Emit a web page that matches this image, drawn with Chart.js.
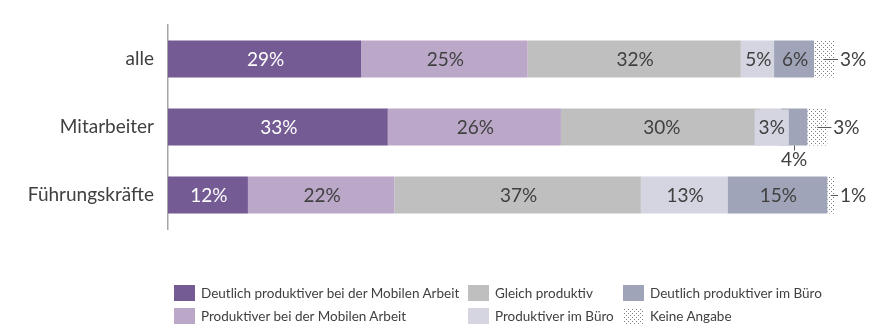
<!DOCTYPE html>
<html lang="de">
<head>
<meta charset="utf-8">
<script src="https://cdn.jsdelivr.net/npm/chart.js@4.4.1/dist/chart.umd.min.js"></script>
<style>
  html, body { margin: 0; padding: 0; background: #fff; }
  #wrap { position: relative; width: 895px; height: 330px; }
  #legend { position: absolute; left: 0; top: 0; width: 895px; height: 330px; pointer-events: none;
    font-family: Lato, "Open Sans", sans-serif; font-size: 13.5px; color: #404040; }
  .item { position: absolute; display: flex; align-items: center; white-space: nowrap; }
  .swatch { width: 21px; height: 16px; margin-right: 6px; }
</style>
</head>
<body>
<div id="wrap">
  <canvas id="chart" width="895" height="330"></canvas>
  <div id="legend"></div>
</div>
<script>
const categories = ["alle", "Mitarbeiter", "Führungskräfte"]

const seriesNames = [
  "Deutlich produktiver bei der Mobilen Arbeit",
  "Produktiver bei der Mobilen Arbeit",
  "Gleich produktiv",
  "Produktiver im Büro",
  "Deutlich produktiver im Büro",
  "Keine Angabe"
]

const deutlichMobil = [29, 33, 12]
const produktiverMobil = [25, 26, 22]
const gleichProduktiv = [32, 30, 37]
const produktiverBuero = [5, 3, 13]
const deutlichBuero = [6, 4, 15]
const keineAngabe = [3, 3, 1]

const colors = ["#745b93", "#bba8c9", "#bfbfbf", "#d4d5e1", "#9fa4b8"]

// gepunktetes Muster für "Keine Angabe"
const tile = document.createElement("canvas")
tile.width = 4
tile.height = 4
const tctx = tile.getContext("2d")
tctx.fillStyle = "#ffffff"
tctx.fillRect(0, 0, 4, 4)
tctx.fillStyle = "#808080"
tctx.fillRect(1, 1, 1, 1)
tctx.fillRect(3, 3, 1, 1)
const dotted = document.getElementById("chart").getContext("2d").createPattern(tile, "repeat")

const seriesData = [deutlichMobil, produktiverMobil, gleichProduktiv, produktiverBuero, deutlichBuero, keineAngabe]

const labelFont = "19px Lato, 'Open Sans', sans-serif"

// Beschriftungen der Segmente
const valueLabels = {
  id: "valueLabels",
  afterDatasetsDraw(chart) {
    const ctx = chart.ctx
    const last = chart.data.datasets.length - 1
    ctx.save()
    ctx.font = labelFont
    ctx.textBaseline = "middle"
    ctx.textAlign = "center"
    const tooNarrow = (bar, w) => bar.x - bar.base < w + 6
    chart.data.datasets.forEach((ds, di) => {
      const meta = chart.getDatasetMeta(di)
      meta.data.forEach((bar, i) => {
        const text = ds.data[i] + "%"
        const left = bar.base, right = bar.x
        const cx = (left + right) / 2
        const top = bar.y - bar.height / 2
        const bottom = bar.y + bar.height / 2
        const w = ctx.measureText(text).width

        if (di === last) {
          ctx.strokeStyle = "#595959"
          ctx.lineWidth = 1
          ctx.beginPath()
          ctx.moveTo(cx, Math.round(bar.y) + 0.5)
          ctx.lineTo(right + 4, Math.round(bar.y) + 0.5)
          ctx.stroke()
          ctx.fillStyle = "#404040"
          ctx.textAlign = "left"
          ctx.fillText(text, right + 6, bar.y + 1)
          ctx.textAlign = "center"
          return
        }

        if (tooNarrow(bar, w)) {
          const prev = di > 0 ? chart.getDatasetMeta(di - 1).data[i] : null
          if (prev && tooNarrow(prev, w)) {
            // unterhalb des Balkens mit kleinem Strich
            ctx.strokeStyle = "#595959"
            ctx.lineWidth = 1
            ctx.beginPath()
            ctx.moveTo(Math.round(cx) + 0.5, bottom)
            ctx.lineTo(Math.round(cx) + 0.5, bottom + 5)
            ctx.stroke()
            ctx.fillStyle = "#404040"
            ctx.fillText(text, cx, bottom + 14)
            return
          }
          ctx.fillStyle = ds.backgroundColor
          ctx.fillRect(cx - w / 2 - 3, top + 1, w + 8, bar.height - 1)
        }
        ctx.fillStyle = di === 0 ? "#ffffff" : "#404040"
        ctx.fillText(text, cx + 1, bar.y + 1)
      })
    })
    ctx.restore()
  }
}

new Chart(document.getElementById("chart"), {
  type: "bar",
  data: {
    labels: categories,
    datasets: seriesNames.map((name, k) => ({
      label: name,
      data: seriesData[k],
      backgroundColor: k < colors.length ? colors[k] : dotted,
      borderWidth: 0,
      barPercentage: 1,
      categoryPercentage: 0.545
    }))
  },
  options: {
    indexAxis: "y",
    responsive: false,
    animation: false,
    layout: { padding: { left: 0, right: 61, top: 25, bottom: 101 } },
    plugins: {
      legend: { display: false },
      tooltip: { enabled: false }
    },
    scales: {
      x: { stacked: true, min: 0, max: 100, display: false },
      y: {
        stacked: true,
        grid: { display: false },
        border: { display: true, color: "#a6a6a6", width: 1.5 },
        ticks: {
          color: "#404040",
          padding: 6,
          font: { family: "Lato, 'Open Sans', sans-serif", size: 19 }
        },
        afterFit(scale) { scale.width = 168 }
      }
    }
  },
  plugins: [valueLabels]
})

// Legende in drei Spalten
const legend = document.getElementById("legend")
const columns = [174, 468, 623]
const rows = [293, 316]
seriesNames.forEach((name, k) => {
  const item = document.createElement("div")
  item.className = "item"
  item.style.left = columns[Math.floor(k / 2)] + "px"
  item.style.top = (rows[k % 2] - 9) + "px"
  item.style.height = "18px"
  const sw = document.createElement("span")
  sw.className = "swatch"
  if (k < colors.length) {
    sw.style.background = colors[k]
  } else {
    sw.style.backgroundImage = "url(" + tile.toDataURL() + ")"
  }
  const label = document.createElement("span")
  label.textContent = name
  item.appendChild(sw)
  item.appendChild(label)
  legend.appendChild(item)
})
</script>
</body>
</html>
